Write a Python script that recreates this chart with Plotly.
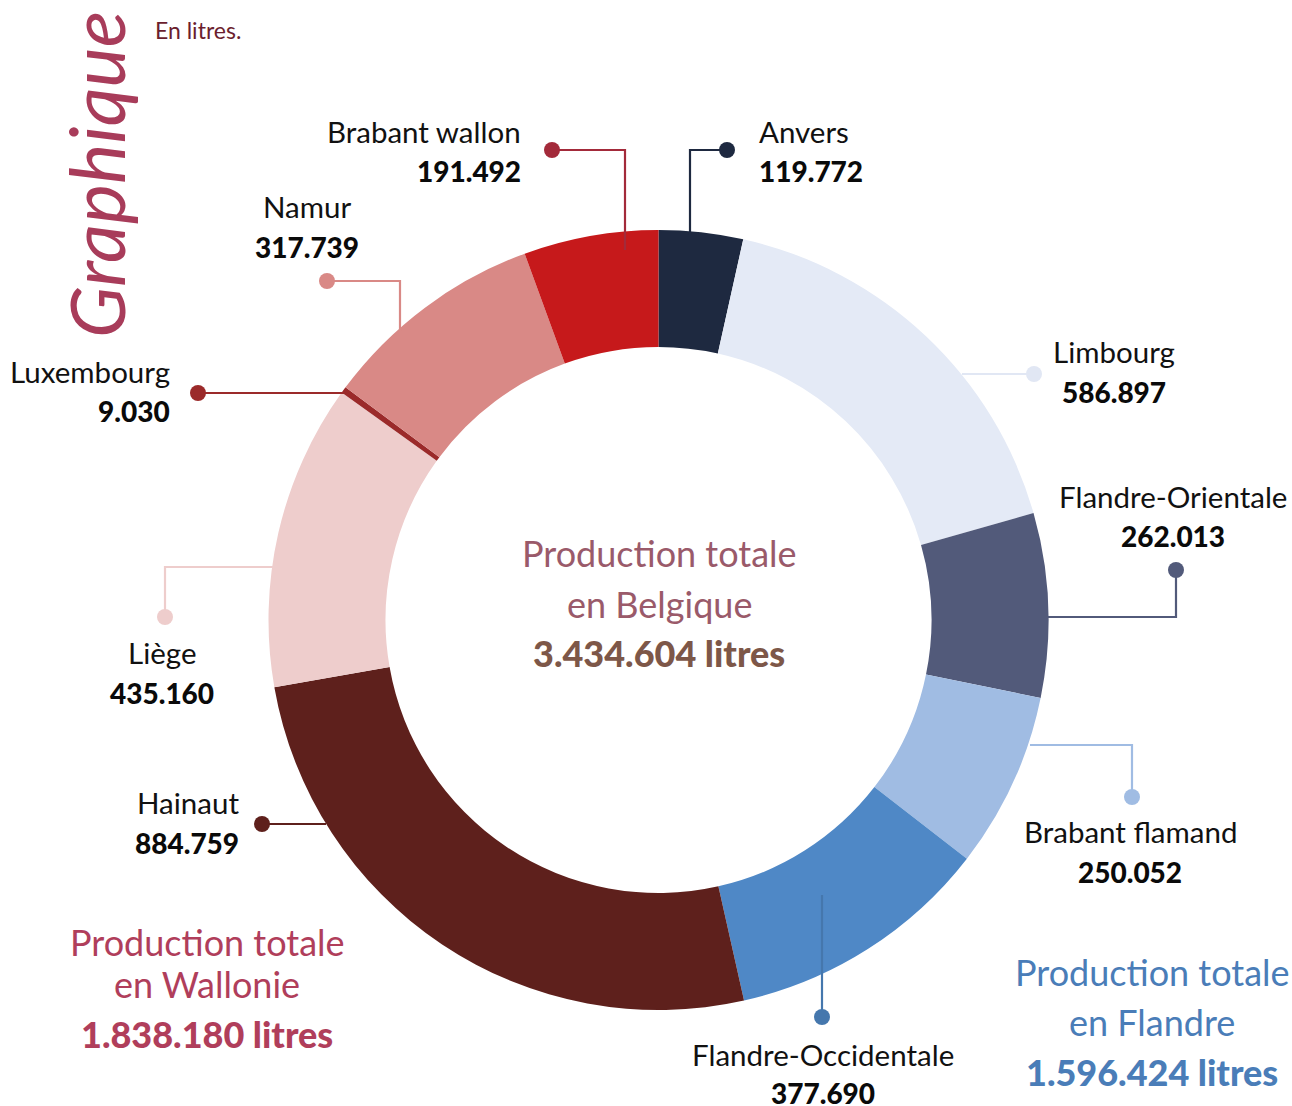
import plotly.graph_objects as go

W, H = 1292, 1106

provinces = ["Anvers", "Limbourg", "Flandre-Orientale", "Brabant flamand",
             "Flandre-Occidentale", "Hainaut", "Liège", "Luxembourg",
             "Namur", "Brabant wallon"]
values = [119772, 586897, 262013, 250052, 377690, 884759, 435160, 9030,
          317739, 191492]
value_labels = ["119.772", "586.897", "262.013", "250.052", "377.690",
                "884.759", "435.160", "9.030", "317.739", "191.492"]
colors = ["#1e2940", "#e4eaf6", "#525a7a", "#a0bce3", "#4f88c6",
          "#5e201c", "#eecdcc", "#9b2a2a", "#d98986", "#c6191b"]
line_colors = ["#1e2940", "#e1e7f4", "#525a7a", "#a0bce3", "#4577ad",
               "#5e201c", "#eecdcc", "#9b2a2a", "#d98986", "#a32a3a"]

total_belgique = "3.434.604 litres"
total_wallonie = "1.838.180 litres"
total_flandre = "1.596.424 litres"

FONT = "Lato, 'Open Sans', sans-serif"


def px(x):
    return x / W


def py(y):
    return 1 - y / H


fig = go.Figure()
fig.add_trace(go.Pie(
    labels=provinces, values=values, sort=False, direction="clockwise",
    rotation=0, hole=0.70,
    marker=dict(colors=colors, line=dict(width=0)),
    textinfo="none", hoverinfo="label+value", showlegend=False,
    domain=dict(x=[px(268.5), px(1048.5)], y=[py(1010), py(230)]),
))

# leader lines: polyline points (pixels), dot at first point
leaders = {
    "Anvers": [(727, 150), (690, 150), (690, 235)],
    "Limbourg": [(1034, 374), (962, 374)],
    "Flandre-Orientale": [(1176, 570), (1176, 617), (1048, 617)],
    "Brabant flamand": [(1132, 797), (1132, 745), (1030, 745)],
    "Flandre-Occidentale": [(822, 1017), (822, 895)],
    "Hainaut": [(262, 824), (326, 824)],
    "Liège": [(165, 617), (165, 567), (273, 567)],
    "Luxembourg": [(198, 393), (347, 393)],
    "Namur": [(327, 281), (400, 281), (400, 331)],
    "Brabant wallon": [(552, 150), (625, 150), (625, 250)],
}
# label placement: (x, y_name, y_value, anchor)
label_pos = {
    "Anvers": (757, 131, 171, "left"),
    "Limbourg": (1114, 351, 392, "center"),
    "Flandre-Orientale": (1173, 496, 536, "center"),
    "Brabant flamand": (1130, 831, 872, "center"),
    "Flandre-Occidentale": (823, 1054, 1093, "center"),
    "Hainaut": (241, 802, 843, "right"),
    "Liège": (162, 652, 693, "center"),
    "Luxembourg": (172, 371, 411, "right"),
    "Namur": (307, 207, 247, "center"),
    "Brabant wallon": (523, 131, 171, "right"),
}

for name, vlab, lc in zip(provinces, value_labels, line_colors):
    pts = leaders[name]
    path = "M " + " L ".join(f"{px(x)},{py(y)}" for x, y in pts)
    fig.add_shape(type="path", path=path, xref="paper", yref="paper",
                  line=dict(color=lc, width=2.2), layer="above")
    cx, cy = pts[0]
    r = 8
    fig.add_shape(type="circle", xref="paper", yref="paper",
                  x0=px(cx - r), x1=px(cx + r), y0=py(cy + r), y1=py(cy - r),
                  fillcolor=lc, line=dict(width=0), layer="above")
    x, yn, yv, anc = label_pos[name]
    fig.add_annotation(x=px(x), y=py(yn), xref="paper", yref="paper",
                       text=name, showarrow=False, xanchor=anc, yanchor="middle",
                       font=dict(family=FONT, size=29.5, color="#111111"))
    fig.add_annotation(x=px(x), y=py(yv), xref="paper", yref="paper",
                       text=vlab, showarrow=False, xanchor=anc,
                       yanchor="middle",
                       font=dict(family=FONT, size=28, color="#0a0a0a",
                                 weight=900))


def block(cx, ys, lines, c1, c2):
    for i, (y, t) in enumerate(zip(ys, lines)):
        bold = i == 2
        fig.add_annotation(x=px(cx), y=py(y), xref="paper", yref="paper",
                           text=t, showarrow=False,
                           xanchor="center", yanchor="middle",
                           font=dict(family=FONT, size=36,
                                     weight=900 if bold else 400,
                                     color=c2 if bold else c1))


block(659, [553, 604, 653], ["Production totale", "en Belgique", total_belgique],
      "#9a5a6a", "#7d5748")
block(207, [942, 984, 1034], ["Production totale", "en Wallonie", total_wallonie],
      "#b03e5b", "#b03e5b")
block(1152, [972, 1022, 1072], ["Production totale", "en Flandre", total_flandre],
      "#4a7db8", "#4a7db8")

fig.add_annotation(x=px(96), y=py(175), xref="paper", yref="paper",
                   text="<i>Graphique</i>", showarrow=False, textangle=-90,
                   xanchor="center", yanchor="middle",
                   font=dict(family=FONT, size=76, color="#a83c5a"))
fig.add_annotation(x=px(153), y=py(30), xref="paper", yref="paper",
                   text="En litres.", showarrow=False, xanchor="left",
                   yanchor="middle",
                   font=dict(family=FONT, size=23, color="#6b1e2e"))

fig.update_layout(width=W, height=H, margin=dict(l=0, r=0, t=0, b=0),
                  paper_bgcolor="white", plot_bgcolor="white")

fig.write_html("out.html", post_script="document.body.style.margin='0';",
               config={"displayModeBar": False})
